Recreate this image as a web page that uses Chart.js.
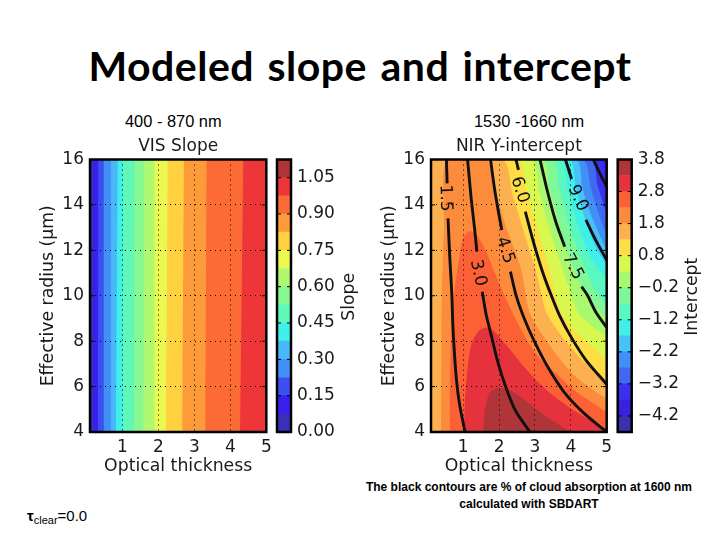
<!DOCTYPE html>
<html>
<head>
<meta charset="utf-8">
<title>Modeled slope and intercept</title>
<script src="https://cdn.jsdelivr.net/npm/chart.js@4/dist/chart.umd.min.js"></script>
<style>
    html, body { margin: 0; padding: 0; background: #fff; }
    #page { position: relative; width: 720px; height: 540px; overflow: hidden; }
    canvas { position: absolute; }
    .txt { position: absolute; color: #000; white-space: nowrap; }
    #title { left: 0; width: 720px; top: 41px; text-align: center; font: 700 41px Lato, sans-serif; letter-spacing: 0.5px; word-spacing: 3px; }
    .band { top: 112px; font: 16.4px "Liberation Sans", sans-serif; }
    #tau { left: 27px; top: 507px; font: 15px "Liberation Sans", sans-serif; }
    #tau sub { font-size: 11px; vertical-align: -3px; line-height: 0; }
    #note { left: 340px; width: 378px; top: 479px; text-align: center; font: 700 12px/17px "Liberation Sans Narrow", "Liberation Sans", sans-serif; }
</style>
</head>
<body>
<div id="page">
    <div id="title" class="txt">Modeled slope and intercept</div>
    <div class="txt band" style="left:125px">400 - 870 nm</div>
    <div class="txt band" style="left:474px">1530 -1660 nm</div>
    <div id="tau" class="txt"><b>τ</b><sub>clear</sub>=0.0</div>
    <div id="note" class="txt">The black contours are % of cloud absorption at 1600 nm<br>calculated with SBDART</div>
    <canvas id="visPlot" width="245" height="350" style="left:30px;top:130px"></canvas>
    <canvas id="visBar" width="100" height="350" style="left:270px;top:130px"></canvas>
    <canvas id="nirPlot" width="240" height="350" style="left:371px;top:130px"></canvas>
    <canvas id="nirBar" width="102" height="350" style="left:611px;top:130px"></canvas>
</div>
<script>
const xTicks = [1, 2, 3, 4, 5];
const yTicks = [4, 6, 8, 10, 12, 14, 16];

// VIS colorbar, lowest band first
const visLevels = [0, 0.075, 0.15, 0.225, 0.3, 0.375, 0.45, 0.525, 0.6, 0.675, 0.75, 0.825, 0.9, 0.975, 1.05, 1.125];
const visColors = ['#3A30B8', '#3A20F0', '#3C50F0', '#4090F8', '#48B8F8', '#40F0E8', '#60F8B8', '#88F890',
    '#B0F870', '#EAF850', '#FFD040', '#FD9A3A', '#FC6A35', '#EE3538', '#B03538'];
const visBarTicks = [0, 0.15, 0.3, 0.45, 0.6, 0.75, 0.9, 1.05];

// VIS band edges: optical thickness at radius 4 and at radius 16
const visEdgesAt4 = [0.18, 0.32, 0.47, 0.66, 0.82, 1.01, 1.32, 1.58, 1.89, 2.21, 2.66, 3.30, 4.27];
const visEdgesAt16 = [0.18, 0.33, 0.48, 0.68, 0.87, 1.01, 1.34, 1.61, 1.89, 2.26, 2.71, 3.34, 4.36];

// NIR colorbar, lowest band first
const nirLevels = [-4.7, -4.2, -3.7, -3.2, -2.7, -2.2, -1.7, -1.2, -0.7, -0.2, 0.3, 0.8, 1.3, 1.8, 2.3, 2.8, 3.3, 3.8];
const nirColors = ['#3A30B0', '#3A20E0', '#3C30F0', '#4068F0', '#4090F8', '#48C0F8', '#40F0E8', '#58F8C0', '#80F898',
    '#A8F870', '#D8F850', '#FFDD45', '#FDB050', '#FC8C3C', '#FC6035', '#E6323C', '#B03538'];
const nirBarTicks = [3.8, 2.8, 1.8, 0.8, -0.2, -1.2, -2.2, -3.2, -4.2];

// NIR filled contour edges, [optical thickness, radius]; each paints everything below it
const nirEdge3C30 = [[0.1, 16], [4.79, 16], [4.97, 14.73], [5, 14.6]];
const nirEdge4068 = [[0.1, 16], [4.56, 16], [4.74, 14.88], [5, 13.6]];
const nirEdge4090 = [[0.1, 16], [4.32, 16], [4.56, 14.73], [4.74, 13.78], [5, 12.65]];
const nirEdge48C0 = [[0.1, 16], [4.14, 16], [4.32, 14.73], [4.6, 13.41], [5, 12.0]];
const nirEdgeCyan = [[0.1, 16], [3.95, 16], [4.14, 14.73], [4.42, 13.26], [4.69, 12.16], [5, 11.3]];
const nirEdge58F8 = [[0.1, 16], [3.72, 16], [3.91, 14.73], [4.19, 13.12], [4.56, 11.65], [5, 10.7]];
const nirEdge80F8 = [[0.1, 16], [3.49, 16], [3.68, 14.73], [3.95, 13.12], [4.28, 11.65], [4.65, 10.33], [5, 9.55]];
const nirEdgeA8F8 = [[0.1, 16], [3.21, 16], [3.4, 14.73], [3.68, 13.12], [4.0, 11.5], [4.42, 10.03], [5, 8.95]];
const nirEdgeLime = [[0.1, 16], [2.89, 16], [3.12, 14.58], [3.4, 12.97], [3.77, 11.2], [4.19, 9.3], [4.56, 8.7], [5, 8.2]];
const nirEdgeYellow = [[0.1, 16], [2.52, 16], [2.75, 14.73], [3.03, 13.12], [3.4, 11.2], [3.72, 9.3], [4.14, 8.42], [4.56, 7.83], [5, 7.2]];
const nirEdgeLight = [[0.1, 16], [2.1, 16], [2.38, 14.44], [2.66, 12.97], [3.03, 11.06], [3.31, 9.3], [3.72, 8.27], [4.19, 7.39], [4.56, 6.8], [5, 6.25]];
const nirEdgeOrange = [[0.38, 4], [0.4, 9.9], [0.46, 13], [0.54, 16], [1.64, 16], [1.92, 14.44], [2.24, 12.82], [2.61, 11.2], [2.84, 9.3], [3.21, 8.27], [3.68, 7.24], [4.19, 6.36], [5, 5.45]];
const nirEdgeOrangeRed = [[0.62, 4], [0.64, 7], [0.68, 9], [0.76, 10.33], [0.9, 11.8], [0.99, 12.53], [1.18, 12.85], [1.41, 12.6], [1.64, 11.94], [1.87, 11.06], [2.1, 10.18], [2.52, 8.79], [2.8, 7.98], [3.17, 7.17], [3.63, 6.51], [4.09, 5.85], [5, 4.87]];
const nirEdgeRed = [[1.02, 4], [1.04, 5.19], [1.11, 6.66], [1.22, 7.83], [1.41, 8.42], [1.64, 8.6], [1.87, 8.42], [2.2, 7.83], [2.61, 7.03], [3.07, 6.22], [3.54, 5.56], [4.0, 5.04], [4.46, 4.6], [5, 4.14]];
const nirEdgeDark = [[1.55, 4], [1.61, 5.04], [1.73, 5.7], [1.96, 5.95], [2.29, 5.85], [2.66, 5.48], [3.07, 4.97], [3.54, 4.45], [4.0, 4.0]];

// black absorption contours, split where the labels sit
const contour15Top = [[0.53, 16], [0.55, 14.95]];
const contour15Low = [[0.575, 13.41], [0.62, 11.8], [0.68, 10.1], [0.713, 8.57], [0.806, 6.36], [0.9, 5.19], [1.05, 4]];
const contour30Top = [[1.12, 16], [1.22, 14.29], [1.315, 12.97], [1.38, 11.94]];
const contour30Low = [[1.53, 10.18], [1.64, 9.15], [1.78, 8.27], [1.96, 7.1], [2.2, 5.92], [2.47, 4.9], [2.86, 4]];
const contour45Top = [[1.76, 16], [1.87, 14.73], [1.98, 13.7], [2.075, 12.9]];
const contour45Low = [[2.315, 11.06], [2.47, 10.03], [2.7, 9.0], [2.98, 8], [3.35, 6.88], [3.8, 5.78], [4.37, 4.82], [5, 4]];
const contour60Top = [[2.47, 16], [2.54, 15.54]];
const contour60Low = [[2.73, 13.7], [2.98, 12.24], [3.21, 11.06], [3.45, 10.03], [3.68, 9.15], [4.0, 8.2], [4.42, 7.17], [5, 6.1]];
const contour75Top = [[3.14, 16], [3.35, 14.58], [3.58, 13.26], [3.83, 12.16]];
const contour75Low = [[4.3, 10.4], [4.46, 10.03], [4.69, 9.3], [5, 8.6]];
const contour90Top = [[3.85, 16], [4.02, 15.14]];
const contour90Low = [[4.42, 13.34], [4.69, 12.46], [5, 11.57]];
const contourCorner = [[4.63, 16], [4.83, 15.32], [5, 14.8]];

const contourLabelText = ['1.5', '3.0', '4.5', '6.0', '7.5', '9.0'];
const contourLabelX = [0.5, 1.41, 2.17, 2.57, 4.05, 4.19];
const contourLabelY = [14.3, 11.0, 12.0, 14.66, 11.28, 14.3];
const contourLabelAngle = [88, 78, 72, 72, 62, 65];

const axisFont = { family: 'DejaVu Sans', size: 17 };
const titleFont = { family: 'DejaVu Sans', size: 17.3 };
const textColor = '#1a1a1a';

Chart.defaults.animation = false;
Chart.defaults.responsive = false;
Chart.defaults.font.family = 'DejaVu Sans';
Chart.defaults.color = textColor;

const framePlugin = {
    id: 'frame',
    afterDraw(chart) {
        const a = chart.chartArea, ctx = chart.ctx;
        ctx.save();
        ctx.strokeStyle = '#000';
        ctx.lineWidth = 1;
        const yScale = chart.scales.y;
        yScale.ticks.forEach(t => {
            const py = yScale.getPixelForValue(t.value);
            ctx.beginPath();
            ctx.moveTo(a.left, py); ctx.lineTo(a.left + 4, py);
            ctx.moveTo(a.right, py); ctx.lineTo(a.right - 4, py);
            ctx.stroke();
        });
        ctx.lineWidth = 2.5;
        ctx.strokeRect(a.left, a.top, a.right - a.left, a.bottom - a.top);
        ctx.restore();
    }
};

// matplotlib colorbar label reads upward, a right axis title in Chart.js reads downward
const sideLabelPlugin = {
    id: 'sideLabel',
    afterDraw(chart, args, opts) {
        if (!opts.text) return;
        const a = chart.chartArea, ctx = chart.ctx;
        ctx.save();
        ctx.translate(a.right + opts.offset, (a.top + a.bottom) / 2 + opts.shift);
        ctx.rotate(-Math.PI / 2);
        ctx.font = '17.3px "DejaVu Sans"';
        ctx.fillStyle = textColor;
        ctx.textAlign = 'center';
        ctx.textBaseline = 'middle';
        ctx.fillText(opts.text, 0, 0);
        ctx.restore();
    }
};

const contourLabelPlugin = {
    id: 'contourLabels',
    afterDatasetsDraw(chart, args, opts) {
        if (!opts.show) return;
        const ctx = chart.ctx;
        contourLabelText.forEach((text, i) => {
            ctx.save();
            ctx.translate(chart.scales.x.getPixelForValue(contourLabelX[i]), chart.scales.y.getPixelForValue(contourLabelY[i]));
            ctx.rotate(contourLabelAngle[i] * Math.PI / 180);
            ctx.font = '17px "DejaVu Sans"';
            ctx.fillStyle = '#111';
            ctx.textAlign = 'center';
            ctx.textBaseline = 'middle';
            ctx.fillText(text, 0, 0);
            ctx.restore();
        });
    }
};

Chart.register(framePlugin, sideLabelPlugin, contourLabelPlugin);

function fillSet(points, color, order) {
    return {
        data: points, showLine: true, fill: 'start', backgroundColor: color,
        borderWidth: 0, pointRadius: 0, tension: 0.25, order: order
    };
}

function lineSet(points) {
    return {
        data: points, showLine: true, fill: false, borderColor: '#111',
        borderWidth: 2.9, pointRadius: 0, tension: 0.25, borderCapStyle: 'butt', order: 0
    };
}

function makePlot(canvasId, titleText, datasets, showLabels, rightPad) {
    return new Chart(document.getElementById(canvasId), {
        type: 'scatter',
        data: { datasets: datasets },
        options: {
            layout: { padding: { left: 0, right: rightPad, top: 0, bottom: 0 } },
            plugins: {
                legend: { display: false },
                tooltip: { enabled: false },
                title: {
                    display: true, text: titleText, fullSize: false, color: textColor,
                    font: { family: 'DejaVu Sans', size: 17, weight: 'normal' },
                    padding: { top: 6, bottom: 3.1 }
                },
                contourLabels: { show: showLabels }
            },
            scales: {
                x: {
                    type: 'linear', min: 0.1, max: 5,
                    afterBuildTicks: s => { s.ticks = xTicks.map(v => ({ value: v })); },
                    // the "5" label must not pull the plot edge in
                    afterFit: s => { s.height = 48; s.paddingLeft = 0; s.paddingRight = 0; },
                    grid: { z: 1, color: '#000', lineWidth: 1, drawTicks: false },
                    border: { display: false, dash: [1, 4] },
                    ticks: { font: axisFont, padding: 5, maxRotation: 0, autoSkip: false },
                    title: { display: true, text: 'Optical thickness', font: titleFont, padding: { top: 0, bottom: 3 } }
                },
                y: {
                    type: 'linear', min: 4, max: 16,
                    afterBuildTicks: s => { s.ticks = yTicks.map(v => ({ value: v })); },
                    afterFit: s => { s.width = 60; },
                    grid: { z: 1, color: '#000', lineWidth: 1, drawTicks: false },
                    border: { display: false, dash: [1, 4] },
                    ticks: { font: axisFont, padding: 6, autoSkip: false },
                    title: { display: true, text: 'Effective radius (μm)', font: titleFont, padding: { top: 8, bottom: 0 } }
                }
            }
        }
    });
}

function makeBar(canvasId, levels, colors, tickValues, decimals, labelText, labelOffset, leftPad) {
    const bandSets = colors.map((c, i) => ({
        data: [[levels[i], levels[i + 1]]], backgroundColor: c,
        barPercentage: 1, categoryPercentage: 1, grouped: false
    }));
    return new Chart(document.getElementById(canvasId), {
        type: 'bar',
        data: { labels: [''], datasets: bandSets },
        options: {
            layout: { padding: { left: leftPad, right: 0, top: 29.5, bottom: 48 } },
            plugins: {
                legend: { display: false },
                tooltip: { enabled: false },
                sideLabel: { text: labelText, offset: labelOffset, shift: 1 }
            },
            scales: {
                x: { display: false },
                y: {
                    position: 'right', min: levels[0], max: levels[levels.length - 1],
                    afterBuildTicks: s => { s.ticks = tickValues.map(v => ({ value: v })); },
                    afterFit: s => { s.width = canvasWidth(canvasId) - leftPad - 14; },
                    grid: { drawOnChartArea: false, drawTicks: false },
                    border: { display: false },
                    ticks: {
                        font: axisFont, padding: 6, autoSkip: false,
                        callback: v => v.toFixed(decimals).replace('-', '\u2212')
                    }
                }
            }
        }
    });
}

function canvasWidth(id) {
    return document.getElementById(id).width;
}

// left to right: each band paints everything to its right
const visSets = [fillSet([[0.1, 4], [0.1, 16], [5, 16]], visColors[0], 100)];
visEdgesAt4.forEach((x, i) => {
    visSets.push(fillSet([[x, 4], [visEdgesAt16[i], 16], [5, 16]], visColors[i + 1], 99 - i));
});
visSets.forEach(s => { s.tension = 0; });

const nirEdges = [nirEdge3C30, nirEdge4068, nirEdge4090, nirEdge48C0, nirEdgeCyan, nirEdge58F8, nirEdge80F8, nirEdgeA8F8,
    nirEdgeLime, nirEdgeYellow, nirEdgeLight, nirEdgeOrange, nirEdgeOrangeRed, nirEdgeRed, nirEdgeDark];
const nirSets = [fillSet([[0.1, 16], [5, 16]], nirColors[1], 100)];
nirEdges.forEach((edge, i) => {
    nirSets.push(fillSet(edge, nirColors[i + 2], 99 - i));
});
[contour15Top, contour15Low, contour30Top, contour30Low, contour45Top, contour45Low, contour60Top, contour60Low,
    contour75Top, contour75Low, contour90Top, contour90Low, contourCorner].forEach(c => nirSets.push(lineSet(c)));

makePlot('visPlot', 'VIS Slope', visSets, false, 8.7);
makeBar('visBar', visLevels, visColors, visBarTicks, 2, 'Slope', 59, 7);
makePlot('nirPlot', 'NIR Y-intercept', nirSets, true, 4.3);
makeBar('nirBar', nirLevels, nirColors, nirBarTicks, 1, 'Intercept', 60.5, 6.7);
</script>
</body>
</html>
